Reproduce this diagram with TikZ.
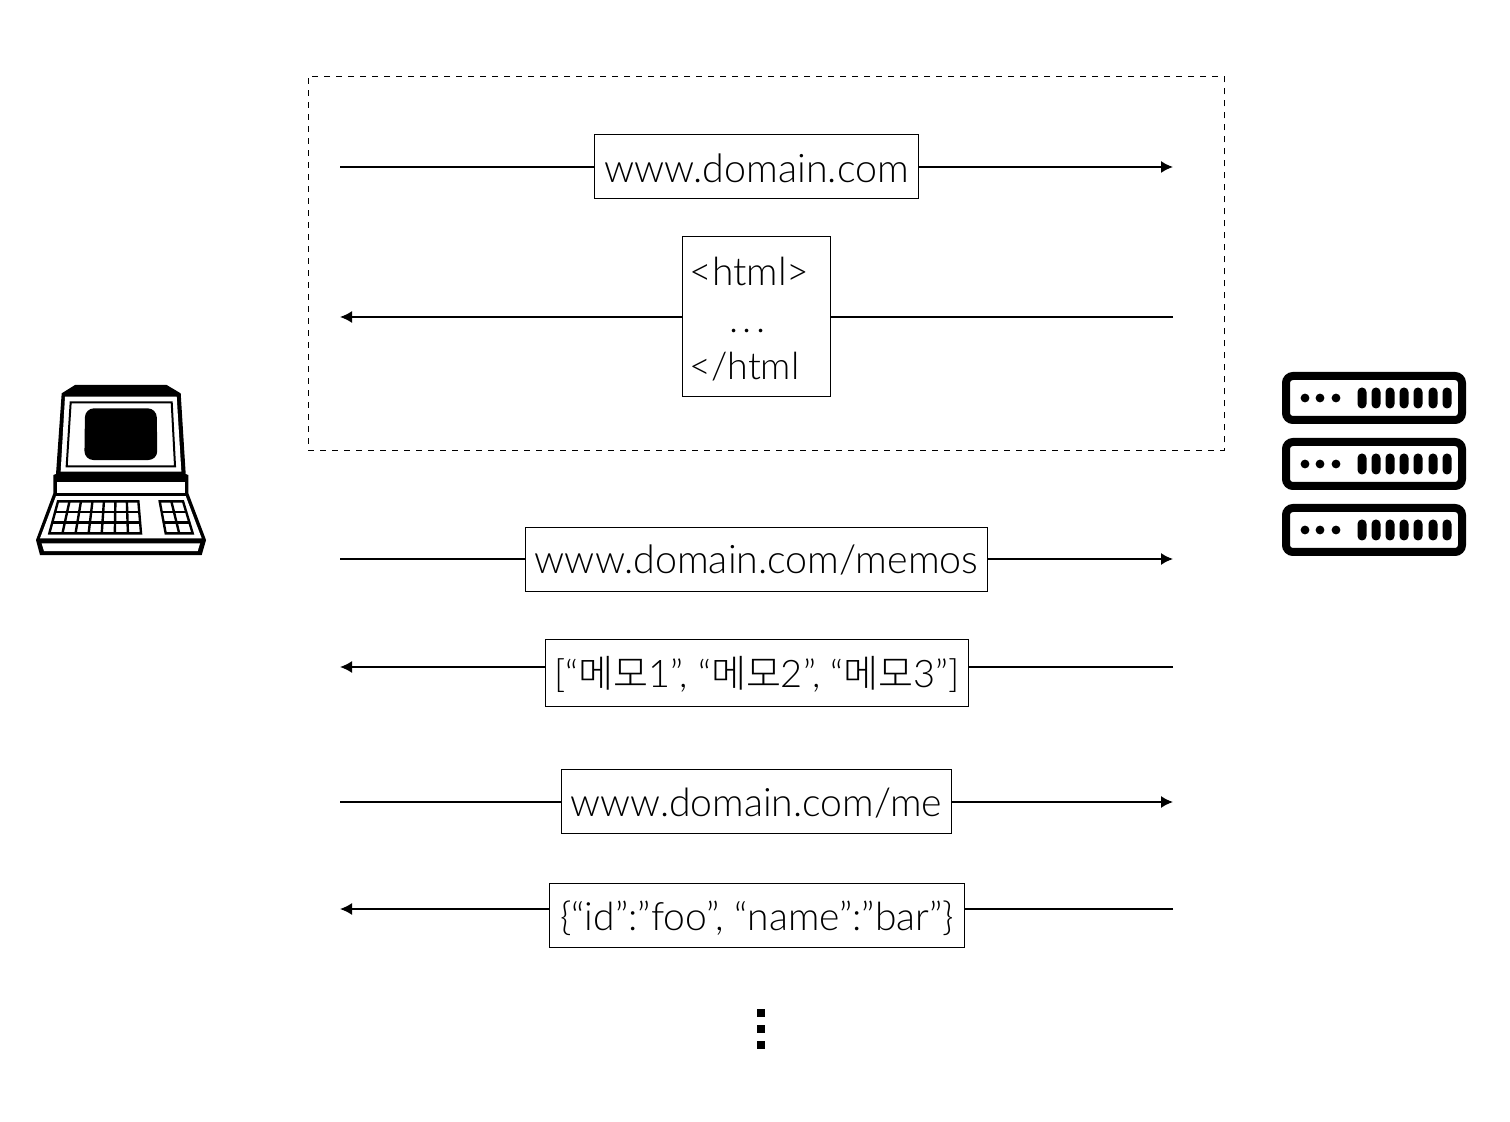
\documentclass[tikz,border=0pt]{standalone}
\usepackage{fontspec}
\setmainfont{Lato}[UprightFont=* Light]
\newfontfamily\krfont{Noto Sans CJK KR Light}
\newcommand{\msgsize}[1]{\fontsize{#1}{24}\selectfont}
\usetikzlibrary{arrows.meta, calc, positioning}

\begin{document}
\begin{tikzpicture}[
    x=0.5pt, y=-0.5pt,
    every node/.style={align=center},
    msg/.style={rectangle, draw=black, line width=0.45pt, inner sep=0pt, minimum height=32pt, text height=14.5pt, text depth=0pt, font=\msgsize{19.7}},
    line/.style={anchor=base west, inner sep=0pt, font=\msgsize{19.5}},
    arrow/.style={line width=0.8pt,->,>={Latex[length=6pt,width=6pt]}},
    wire/.style={line width=0.8pt}
]
\useasboundingbox (0,0) rectangle (1510,1122);

% Dashed group
\node (group) [draw=black, dashed, line width=0.45pt, minimum width=458pt, minimum height=187pt, inner sep=0pt] at (766,263.5) {};

% Messages
\node (home) [msg, minimum width=162pt, text height=16.5pt] at (756.5,166.5) {www.domain.com};
\node (page) [msg, minimum width=74pt, minimum height=80pt] at (756.5,316.5) {};
\node (pageA) [line] at (689,286) {<html>};
\node (pageB) [line] at (729,333) {.\hspace{2.1pt}.\hspace{2.1pt}.};
\node (pageC) [line, font=\msgsize{18.8}] at (689,380) {</html};
\node (memos) [msg, minimum width=231pt] at (756.5,559.5) {www.domain.com/memos};
\node (list) [msg, minimum width=211.5pt, minimum height=33.5pt, text height=15pt, font=\msgsize{19}] at (757,673) {[“{\krfont 메모}1”, “{\krfont 메모}2”, “{\krfont 메모}3”]};
\node (me) [msg, minimum width=195pt, font=\msgsize{19.6}] at (756.5,801.5) {www.domain.com/me};
\node (user) [msg, minimum width=207.5pt, font=\msgsize{19.5}] at (757,915.5) {\{“id”:”foo”, “name”:”bar”\}};

% Line ends
\foreach \name/\ypos in {a/167, b/317, c/559, d/667, e/802, f/909} {
    \coordinate (\name L) at (340,\ypos);
    \coordinate (\name R) at (1173,\ypos);
}

% Arrows
\draw [wire] (aL) -- (aL -| home.west);
\draw [arrow] (aR -| home.east) -- (aR);
\draw [wire] (bR) -- (bR -| page.east);
\draw [arrow] (bL -| page.west) -- (bL);
\draw [wire] (cL) -- (cL -| memos.west);
\draw [arrow] (cR -| memos.east) -- (cR);
\draw [wire] (dR) -- (dR -| list.east);
\draw [arrow] (dL -| list.west) -- (dL);
\draw [wire] (eL) -- (eL -| me.west);
\draw [arrow] (eR -| me.east) -- (eR);
\draw [wire] (fR) -- (fR -| user.east);
\draw [arrow] (fL -| user.west) -- (fL);

% More dots
\foreach \ypos in {1013, 1029, 1045} {
    \fill (757,\ypos-4) rectangle (764.5,\ypos+4);
}

% Terminal
\begin{scope}[shift={(20,370)}, x=0.1667pt, y=-0.1667pt]
    \fill (165,45) -- (440,45) -- (482,70) -- (497,312) -- (505,315) -- (505,370) -- (558,510) -- (545,555) -- (60,555) -- (48,510) -- (100,370) -- (100,315) -- (108,312) -- (125,70) -- cycle;
    \fill [white] (135,80) -- (470,80) -- (484,305) -- (122,305) -- cycle;
    \draw [line width=1pt] (152,97) -- (455,97) -- (465,289) -- (140,289) -- cycle;
    \fill [rounded corners=4.5pt] (195,115) -- (410,115) -- (412,270) -- (193,270) -- cycle;
    \fill [white] (112,335) rectangle (495,368);
    \fill [white] (108,378) -- (497,378) -- (545,505) -- (60,505) -- cycle;
    \fill [white] (65,520) -- (540,520) -- (533,543) -- (72,543) -- cycle;
    % keypads
    \coordinate (kA) at (114,394);
    \coordinate (kB) at (355,394);
    \coordinate (kC) at (363,490);
    \coordinate (kD) at (88,490);
    \draw [line width=1.2pt] (kA) -- (kB) -- (kC) -- (kD) -- cycle;
    \foreach \i in {1,...,6} {
        \draw [line width=1.2pt] ($(kA)!\i/7!(kB)$) -- ($(kD)!\i/7!(kC)$);
    }
    \foreach \i in {1,2} {
        \draw [line width=1.2pt] ($(kA)!\i/3!(kD)$) -- ($(kB)!\i/3!(kC)$);
    }
    \coordinate (pA) at (419,394);
    \coordinate (pB) at (489,394);
    \coordinate (pC) at (518,490);
    \coordinate (pD) at (437,490);
    \draw [line width=1.2pt] (pA) -- (pB) -- (pC) -- (pD) -- cycle;
    \draw [line width=1.2pt] ($(pA)!0.5!(pB)$) -- ($(pD)!0.5!(pC)$);
    \foreach \i in {1,2} {
        \draw [line width=1.2pt] ($(pA)!\i/3!(pD)$) -- ($(pB)!\i/3!(pC)$);
    }
\end{scope}

% Servers
\foreach \ypos in {376, 442, 508} {
    \draw [line width=4pt, rounded corners=3.5pt] (1286,\ypos) rectangle (1462,\ypos+44);
    \foreach \xpos in {1305,1320,1336} {
        \fill (\xpos,\ypos+22) circle (2.2pt);
    }
    \foreach \xpos in {1362,1376,1390,1404,1418,1433,1447} {
        \fill [rounded corners=2.2pt] (\xpos-4.5,\ypos+11.5) rectangle (\xpos+4.5,\ypos+32.5);
    }
}
\end{tikzpicture}
\end{document}
